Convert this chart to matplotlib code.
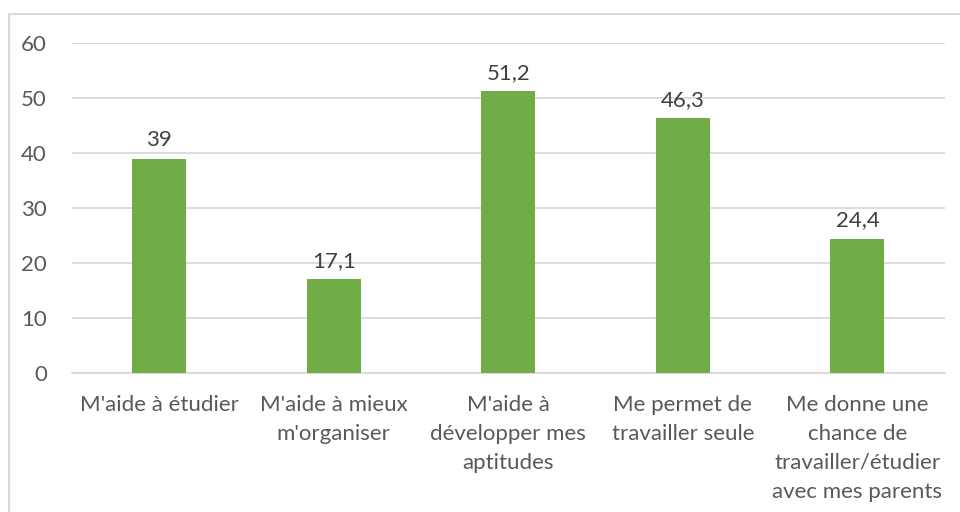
import matplotlib.pyplot as plt
from matplotlib.patches import Rectangle

categories = [
    "M'aide à étudier",
    "M'aide à mieux\nm'organiser",
    "M'aide à\ndévelopper mes\naptitudes",
    "Me permet de\ntravailler seule",
    "Me donne une\nchance de\ntravailler/étudier\navec mes parents",
]
values = [39, 17.1, 51.2, 46.3, 24.4]
value_labels = ["39", "17,1", "51,2", "46,3", "24,4"]

plt.rcParams['font.family'] = ['Lato', 'DejaVu Sans']
text_color = '#595959'
fs = 16

fig = plt.figure(figsize=(9.6, 5.12), dpi=100)
ax = fig.add_axes([0.075, 0.2715, 0.909, 0.6445])

x = range(len(categories))
bars = ax.bar(x, values, width=0.31, color='#70AD47', zorder=3)

for b, lab in zip(bars, value_labels):
    ax.annotate(lab, (b.get_x() + b.get_width() / 2, b.get_height()),
                xytext=(0, 6), textcoords='offset points',
                ha='center', va='bottom', fontsize=fs, color='#404040')

ax.set_xlim(-0.5, 4.5)
ax.set_ylim(0, 60)
ax.set_yticks(range(0, 61, 10))
ax.set_xticks(list(x))
ax.set_xticklabels(categories, fontsize=fs, color=text_color, linespacing=1.55)
ax.tick_params(axis='y', labelsize=fs, labelcolor=text_color, length=0, pad=18)
ax.tick_params(axis='x', length=0, pad=16)
ax.grid(axis='y', color='#d9d9d9', linewidth=1.3, zorder=0)
for s in ['top', 'right', 'left']:
    ax.spines[s].set_visible(False)
ax.spines['bottom'].set_color('#d9d9d9')
ax.spines['bottom'].set_linewidth(1.3)

fig.patches.append(Rectangle((9 / 960, -0.1), 1.2, 1 - 14 / 512 + 0.1,
                             transform=fig.transFigure, fill=False,
                             edgecolor='#d9d9d9', linewidth=1.5))

fig.savefig('out.png', dpi=100)
